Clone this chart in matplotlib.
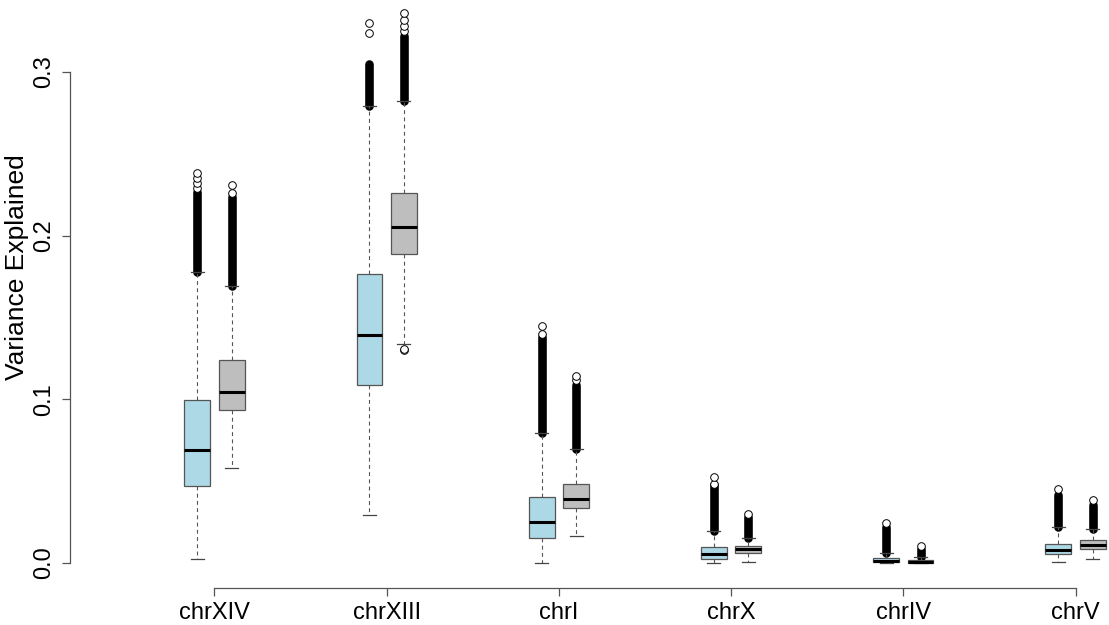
import matplotlib
matplotlib.use("Agg")
import matplotlib.pyplot as plt

plt.rcParams['font.family'] = ['Liberation Sans', 'DejaVu Sans']

groups = ['chrXIV', 'chrXIII', 'chrI', 'chrX', 'chrIV', 'chrV']

# light blue boxes (left of each pair)
blue_whislo = [0.0023, 0.029, 0.0002, 0.0, 0.0, 0.0005]
blue_q1 = [0.047, 0.1087, 0.0153, 0.0026, 0.0003, 0.0053]
blue_med = [0.069, 0.1393, 0.0252, 0.0055, 0.0012, 0.0079]
blue_q3 = [0.0993, 0.1766, 0.0405, 0.0096, 0.0030, 0.0116]
blue_whishi = [0.1778, 0.2789, 0.0792, 0.0197, 0.0063, 0.0218]
blue_dense_top = [0.2268, 0.305, 0.138, 0.0476, 0.022, 0.0415]
blue_fliers = [[0.229, 0.232, 0.235, 0.2384], [0.324, 0.330], [0.140, 0.1448],
               [0.048, 0.0527], [0.0246], [0.045]]

# gray boxes (right of each pair)
gray_whislo = [0.058, 0.134, 0.0167, 0.0004, 0.0, 0.0023]
gray_q1 = [0.0935, 0.1888, 0.0334, 0.0063, 0.0002, 0.0084]
gray_med = [0.1047, 0.2054, 0.0393, 0.0084, 0.0008, 0.0108]
gray_q3 = [0.124, 0.226, 0.048, 0.0104, 0.0018, 0.014]
gray_whishi = [0.169, 0.282, 0.0696, 0.0151, 0.0035, 0.0206]
gray_dense_top = [0.2238, 0.322, 0.1087, 0.0283, 0.0085, 0.0354]
gray_fliers = [[0.226, 0.2309], [0.130, 0.1307, 0.325, 0.328, 0.3316, 0.336],
               [0.1115, 0.1142], [0.0297], [0.0105], [0.0385]]

yticks = [0.0, 0.1, 0.2, 0.3]


def make_stats(lo, q1, med, q3, hi, fl):
    return [dict(whislo=a, q1=b, med=c, q3=d, whishi=e, fliers=f)
            for a, b, c, d, e, f in zip(lo, q1, med, q3, hi, fl)]


fig = plt.figure(figsize=(11.09, 6.25), dpi=100)
ax = fig.add_axes([0, 0, 1, 1])
ax.patch.set_alpha(0)

offset = 0.1
width = 0.15
xs = list(range(len(groups)))

sets = [
    (make_stats(blue_whislo, blue_q1, blue_med, blue_q3, blue_whishi, blue_fliers),
     blue_whishi, blue_dense_top, -offset, '#ADD8E6'),
    (make_stats(gray_whislo, gray_q1, gray_med, gray_q3, gray_whishi, gray_fliers),
     gray_whishi, gray_dense_top, offset, '#BEBEBE'),
]

for stats, hi, dense, shift, color in sets:
    pos = [x + shift for x in xs]
    # dense run of overlapping outlier circles
    ax.vlines(pos, hi, dense, color='black', linewidth=6.2, capstyle='round', zorder=2)
    ax.bxp(stats, positions=pos, widths=width, capwidths=width * 0.5,
           patch_artist=True, manage_ticks=False,
           boxprops=dict(facecolor=color, edgecolor='#555555', linewidth=0.9),
           whiskerprops=dict(color='#555555', linewidth=0.8, linestyle=(0, (3.5, 3))),
           capprops=dict(color='#444444', linewidth=0.9),
           medianprops=dict(color='black', linewidth=2.2),
           flierprops=dict(marker='o', markerfacecolor='white', markeredgecolor='black',
                           markersize=5.5, markeredgewidth=0.7))

# map the figure pixels to data units (R-style plot region)
ax.set_xlim(-1.2456, 5.1945)
ax.set_ylim(-0.0379, 0.3439)

for s in ['top', 'right']:
    ax.spines[s].set_visible(False)
ax.spines['left'].set_position(('data', -0.839))
ax.spines['left'].set_bounds(0, 0.3)
ax.spines['bottom'].set_position(('data', -0.0153))
ax.spines['bottom'].set_bounds(0, len(groups) - 1)
for s in ['left', 'bottom']:
    ax.spines[s].set_color('#555555')
    ax.spines[s].set_linewidth(0.9)

ax.set_yticks(yticks)
ax.set_yticklabels([f'{v:.1f}' for v in yticks], rotation=90, va='center')
ax.set_xticks(xs)
ax.set_xticklabels(groups)
ax.tick_params(axis='both', labelsize=17, length=6, color='#555555', width=0.9)
ax.tick_params(axis='y', pad=5)
ax.tick_params(axis='x', pad=4)

ax.set_ylabel('Variance Explained', fontsize=19)
ax.yaxis.set_label_coords(0.026, 0.573)

fig.savefig('out.png', dpi=100)
